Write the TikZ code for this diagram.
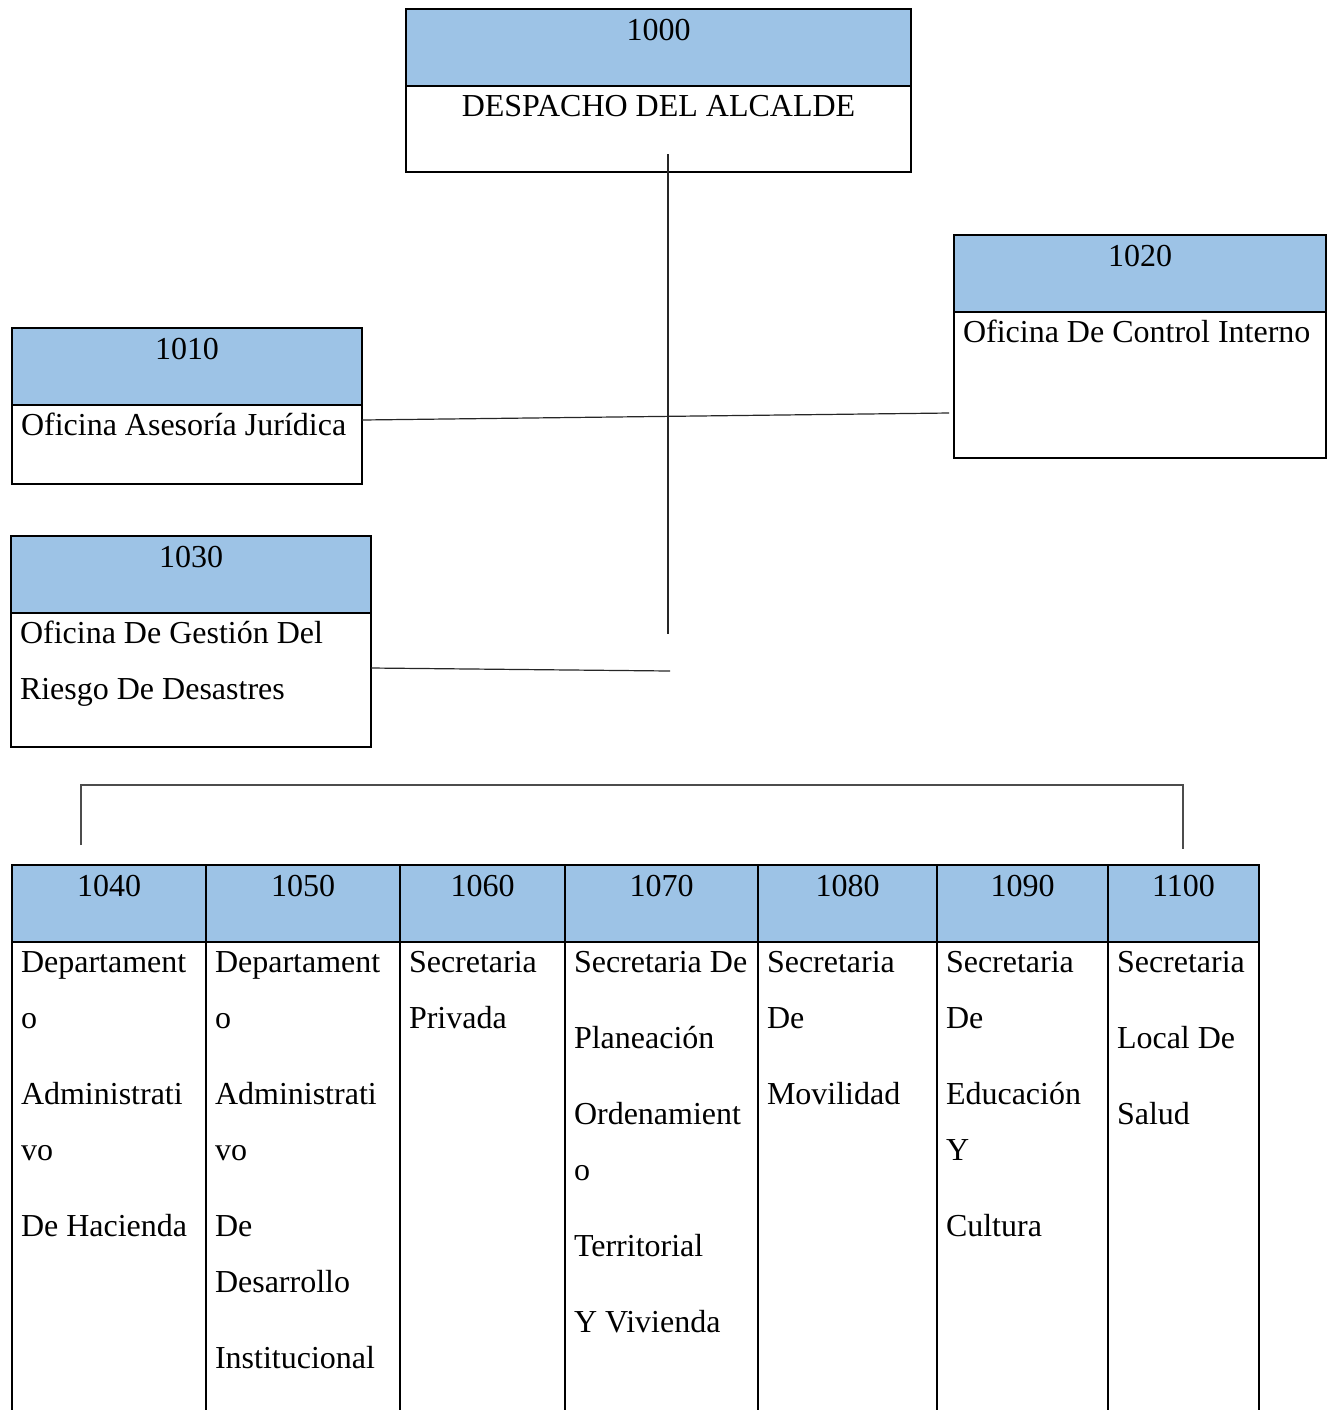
\documentclass[tikz,border=0pt]{standalone}
\usepackage{fontspec}
\setmainfont{Liberation Serif}
\usetikzlibrary{positioning}
\definecolor{headblue}{RGB}{157,195,230}

\begin{document}
\begin{tikzpicture}[
  x = 0.5pt, y = -0.5pt,
  every node/.style = {
    font = \fontsize{16}{28}\selectfont,
    outer sep = 0pt
  },
  head/.style = {
    draw, line width = 1pt, fill = headblue,
    inner sep = 0pt, text height = 15.5pt, text depth = 23pt
  },
  body/.style = {
    draw, line width = 1pt,
    inner xsep = 4.5pt, inner ysep = 0pt, text height = 15pt,
    execute at begin node = {\spaceskip=0pt\xspaceskip=0pt\relax}
  },
  link/.style = {draw, line width = 0.6pt, black!85}
]
  \useasboundingbox (0,0) rectangle (1328,1410);

  % Despacho y oficinas
  \node[head, minimum width = 252.5pt, anchor = north west] (h1000) at (406,9) {1000};
  \node[body, text width = 243.5pt, text depth = 28pt] (b1000) [below=0pt of h1000]
    {\hspace*{\fill}DESPACHO DEL ALCALDE\hspace*{\fill}\null};

  \node[head, minimum width = 186pt, anchor = north west] (h1020) at (954,235) {1020};
  \node[body, text width = 177pt, text depth = 58pt] (b1020) [below=0pt of h1020] {Oficina De Control Interno};

  \node[head, minimum width = 175pt, anchor = north west] (h1010) at (12,328) {1010};
  \node[body, text width = 166pt, text depth = 24.5pt] (b1010) [below=0pt of h1010] {Oficina Asesoría Jurídica};

  \node[head, minimum width = 180pt, anchor = north west] (h1030) at (11,536) {1030};
  \node[body, text width = 171pt, text depth = 52pt] (b1030) [below=0pt of h1030] {Oficina De Gestión Del\\Riesgo De Desastres};

  % Dependencias
  \node[head, minimum width = 97pt, anchor = north west] (h1040) at (12,865) {1040};
  \node[head, minimum width = 97pt] (h1050) [right=0pt of h1040] {1050};
  \node[head, minimum width = 82.5pt] (h1060) [right=0pt of h1050] {1060};
  \node[head, minimum width = 96.5pt] (h1070) [right=0pt of h1060] {1070};
  \node[head, minimum width = 89.5pt] (h1080) [right=0pt of h1070] {1080};
  \node[head, minimum width = 85.5pt] (h1090) [right=0pt of h1080] {1090};
  \node[head, minimum width = 75.5pt] (h1100) [right=0pt of h1090] {1100};

  \node[body, text width = 88pt, text depth = 229.5pt] (b1040) [below=0pt of h1040]
    {Departament\\o\\[10pt]Administrati\\vo\\[10pt]De Hacienda};
  \node[body, text width = 88pt, text depth = 229.5pt] (b1050) [below=0pt of h1050]
    {Departament\\o\\[10pt]Administrati\\vo\\[10pt]De\\Desarrollo\\[10pt]Institucional};
  \node[body, text width = 73.5pt, text depth = 229.5pt] (b1060) [below=0pt of h1060]
    {Secretaria\\Privada};
  \node[body, text width = 87.5pt, text depth = 229.5pt] (b1070) [below=0pt of h1070]
    {Secretaria De\\[10pt]Planeación\\[10pt]Ordenamient\\o\\[10pt]Territorial\\[10pt]Y Vivienda};
  \node[body, text width = 80.5pt, text depth = 229.5pt] (b1080) [below=0pt of h1080]
    {Secretaria\\De\\[10pt]Movilidad};
  \node[body, text width = 76.5pt, text depth = 229.5pt] (b1090) [below=0pt of h1090]
    {Secretaria\\De\\[10pt]Educación\\Y\\[10pt]Cultura};
  \node[body, text width = 66.5pt, text depth = 229.5pt] (b1100) [below=0pt of h1100]
    {Secretaria\\[10pt]Local De\\[10pt]Salud};

  % Puntos libres
  \coordinate (stem) at (668,634);
  \coordinate (mid) at (670,671);
  \coordinate (barW) at (81,845);
  \coordinate (barNW) at (81,785);
  \coordinate (barNE) at (1183,785);
  \coordinate (barE) at (1183,849);

  % Lineas
  \draw[link] ([xshift=4.75pt, yshift=9pt]b1000.south) -- (stem);
  \draw[link] ([yshift=-7.5pt]b1010.north east) -- ([xshift=-2.5pt, yshift=-14pt]b1020.west);
  \draw[link] ([yshift=6pt]b1030.east) -- (mid);
  \draw[link, black!70] (barW) -- (barNW) -- (barNE) -- (barE);
\end{tikzpicture}
\end{document}
